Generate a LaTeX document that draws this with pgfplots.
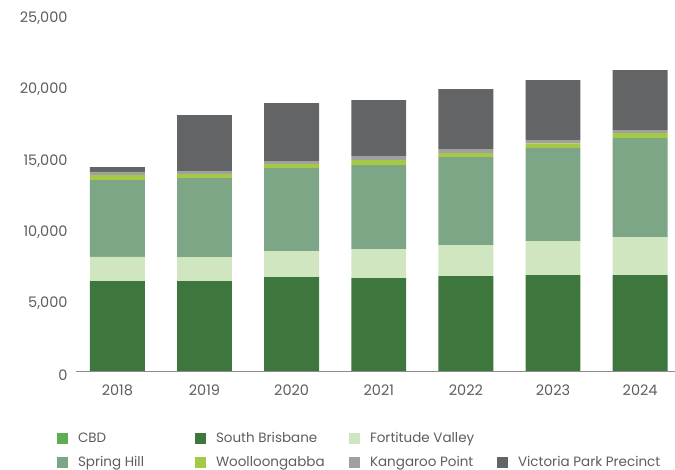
\documentclass[border=0pt]{standalone}
\usepackage{fontspec}
\setmainfont{Poppins}
\usepackage{pgfplots}
\pgfplotsset{compat=1.18}
\usetikzlibrary{calc}

\definecolor{cbd}{HTML}{5BAE55}
\definecolor{sbris}{HTML}{3E773D}
\definecolor{fval}{HTML}{CFE6C1}
\definecolor{shill}{HTML}{7DA686}
\definecolor{wgabba}{HTML}{A6C945}
\definecolor{kpoint}{HTML}{A0A0A0}
\definecolor{vpp}{HTML}{636466}
\definecolor{txt}{HTML}{5E5E5E}

\pgfplotstableread{
x cbd sb fv sh w k vpp
0 0 6300 1700 5370 350 230 330
1 0 6300 1680 5530 280 210 3920
2 0 6580 1820 5810 300 190 4060
3 0 6510 2030 5880 350 280 3920
4 0 6650 2170 6160 280 280 4200
5 0 6720 2380 6530 310 230 4200
6 0 6720 2660 6930 350 210 4200
}\datatable

% fixed-width legend text so the columns sit where the reference has them
\newcommand{\lA}[1]{\makebox[115pt][l]{#1}}
\newcommand{\lB}[1]{\makebox[131pt][l]{#1}}
\newcommand{\lC}[1]{\makebox[125pt][l]{#1}}

\begin{document}
\begin{tikzpicture}
\begin{axis}[
  name=ax,
  scale only axis,
  width=599pt, height=357pt,
  ybar stacked,
  bar width=0.63,
  xmin=-0.475, xmax=6.4,
  ymin=0, ymax=25000,
  xtick={0,...,6},
  xticklabels={2018,2019,2020,2021,2022,2023,2024},
  ytick={0,5000,10000,15000,20000,25000},
  scaled y ticks=false,
  /pgf/number format/.cd, 1000 sep={,}, assume math mode=true,
  /pgfplots/.cd,
  major tick length=0pt,
  axis lines*=left,
  y axis line style={draw=none},
  x axis line style={draw=black!45, line width=0.8pt},
  tick label style={font=\fontsize{14.5}{16}\selectfont, text=txt},
  yticklabel style={xshift=-5pt, yshift=-4pt},
  xticklabel style={yshift=-10pt},
  legend columns=4,
  legend style={at={(-0.032,-0.166)}, anchor=north west, draw=none,
    inner sep=0pt, font=\fontsize{13.5}{15}\selectfont, text=txt,
    row sep=8pt,
    /tikz/every odd column/.append style={column sep=8pt}},
  legend cell align=left,
  legend image code/.code={\fill[#1,draw=none] (0pt,-5.5pt) rectangle (11pt,5.5pt);},
]
\addplot[fill=cbd, draw=none] table[x=x, y=cbd] {\datatable};
\addlegendentry{\lA{CBD}}
\addplot[fill=sbris, draw=none] table[x=x, y=sb] {\datatable};
\addlegendentry{\lB{South Brisbane}}
\addplot[fill=fval, draw=none] table[x=x, y=fv] {\datatable};
\addlegendentry{\lC{Fortitude Valley}}
\addlegendimage{empty legend}
\addlegendentry{}
\addplot[fill=shill, draw=none] table[x=x, y=sh] {\datatable};
\addlegendentry{\lA{Spring Hill}}
\addplot[fill=wgabba, draw=none] table[x=x, y=w] {\datatable};
\addlegendentry{\lB{Woolloongabba}}
\addplot[fill=kpoint, draw=none] table[x=x, y=k] {\datatable};
\addlegendentry{\lC{Kangaroo Point}}
\addplot[fill=vpp, draw=none] table[x=x, y=vpp] {\datatable};
\addlegendentry{Victoria Park Precinct}
\end{axis}
\pgfresetboundingbox
\path ($(ax.south west)+(-76pt,-99pt)$) rectangle ($(ax.north east)+(0pt,14pt)$);
\end{tikzpicture}
\end{document}
